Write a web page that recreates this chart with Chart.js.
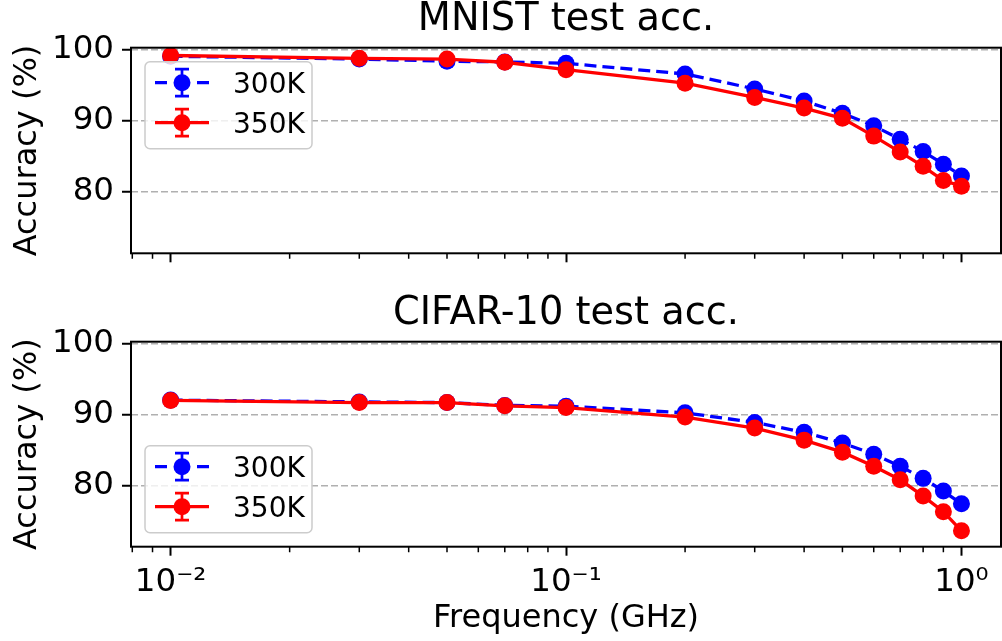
<!DOCTYPE html>
<html><head><meta charset="utf-8">
<script src="https://cdn.jsdelivr.net/npm/chart.js@4.4.1/dist/chart.umd.min.js"></script>
<style>
html,body{margin:0;padding:0;background:#fff;}
#wrap{position:relative;width:1002px;height:641px;overflow:hidden;}
canvas{position:absolute;left:0;}
#c1{top:0px}
#c2{top:290px}
</style></head><body>
<div id="wrap"><canvas id="c1" width="1002" height="290"></canvas><canvas id="c2" width="1002" height="351"></canvas></div>
<script>
// ---- data ----
const freqs = [0.01, 0.03, 0.05, 0.07, 0.1, 0.2, 0.3, 0.4, 0.5, 0.6, 0.7, 0.8, 0.9, 1.0];
const mnist300 = [99.1, 98.7, 98.4, 98.3, 98.1, 96.6, 94.5, 92.8, 91.06, 89.3, 87.4, 85.7, 83.9, 82.25];
const mnist350 = [99.2, 98.8, 98.7, 98.25, 97.2, 95.3, 93.3, 91.8, 90.35, 87.85, 85.6, 83.6, 81.6, 80.8];
const cifar300 = [92.05, 91.8, 91.7, 91.3, 91.2, 90.25, 88.9, 87.5, 86.0, 84.4, 82.7, 81.0, 79.2, 77.4];
const cifar350 = [92.0, 91.7, 91.7, 91.25, 91.0, 89.65, 88.1, 86.4, 84.7, 82.7, 80.8, 78.5, 76.3, 73.6];
const seriesLabels = ['300K', '350K'];
const panelTitles = ['MNIST test acc.', 'CIFAR-10 test acc.'];
const yTickValues = [80, 90, 100];
const xMajorTicks = [0.01, 0.1, 1];
const xMinorTicks = [0.008, 0.009, 0.02, 0.03, 0.04, 0.05, 0.06, 0.07, 0.08, 0.09, 0.2, 0.3, 0.4, 0.5, 0.6, 0.7, 0.8, 0.9];
const xTickLabels = ['10\u207B\u00B2', '10\u207B\u00B9', '10\u2070'];
const yAxisLabel = 'Accuracy (%)';
const xAxisLabel = 'Frequency (GHz)';

const FONT = "'DejaVu Sans', 'Liberation Sans', sans-serif";
const BLUE = '#0000ff', RED = '#ff0000';

function legendHandle(ctx, x0, y, color, dashed) {
  ctx.save();
  ctx.strokeStyle = color; ctx.fillStyle = color;
  ctx.lineWidth = 3.3; ctx.setLineDash([]);
  ctx.beginPath();
  if (dashed) {
    ctx.moveTo(x0, y); ctx.lineTo(x0 + 12, y);
    ctx.moveTo(x0 + 42, y); ctx.lineTo(x0 + 54, y);
  } else {
    ctx.moveTo(x0, y); ctx.lineTo(x0 + 54, y);
  }
  ctx.stroke();
  const cx = x0 + 27;
  ctx.lineWidth = 2.7;
  ctx.beginPath();
  ctx.moveTo(cx, y - 13.5); ctx.lineTo(cx, y + 13.5);
  ctx.moveTo(cx - 7, y - 13.5); ctx.lineTo(cx + 7, y - 13.5);
  ctx.moveTo(cx - 7, y + 13.5); ctx.lineTo(cx + 7, y + 13.5);
  ctx.stroke();
  ctx.beginPath(); ctx.arc(cx, y, 8.5, 0, Math.PI * 2); ctx.fill();
  ctx.restore();
}

const decorPlugin = {
  id: 'decor',
  afterDraw(chart, args, opts) {
    const ctx = chart.ctx, ca = chart.chartArea, xs = chart.scales.x;
    // legend box
    const bw = 167, bh = 87;
    const bx = ca.left + 14;
    const by = opts.legendPos === 'top' ? ca.top + 14 : ca.bottom - 14 - bh;
    ctx.save();
    ctx.beginPath();
    ctx.roundRect(bx, by, bw, bh, 5);
    ctx.fillStyle = 'rgba(255,255,255,0.8)';
    ctx.fill();
    ctx.strokeStyle = '#cccccc'; ctx.lineWidth = 1.5;
    ctx.stroke();
    const ds = chart.data.datasets;
    const entries = [ds.find(d => d.label === seriesLabels[0]), ds.find(d => d.label === seriesLabels[1])];
    entries.forEach((d, i) => {
      const ey = by + 21 + i * 40;
      legendHandle(ctx, bx + 10, ey, d.borderColor, !!(d.borderDash && d.borderDash.length));
      ctx.fillStyle = '#000';
      ctx.font = '28px ' + FONT;
      ctx.textBaseline = 'alphabetic'; ctx.textAlign = 'left';
      ctx.fillText(d.label, bx + 88, ey + 10.5);
    });
    // minor x ticks
    ctx.strokeStyle = '#000'; ctx.lineWidth = 1.5; ctx.setLineDash([]);
    ctx.beginPath();
    xMinorTicks.forEach(v => {
      const px = xs.getPixelForValue(v);
      ctx.moveTo(px, ca.bottom); ctx.lineTo(px, ca.bottom + 5.5);
    });
    ctx.stroke();
    // frame
    ctx.lineWidth = 2; ctx.strokeStyle = '#000';
    ctx.strokeRect(ca.left, ca.top, ca.right - ca.left, ca.bottom - ca.top);
    ctx.restore();
  }
};

function makeChart(canvasId, title, d300, d350, opt) {
  const ctx = document.getElementById(canvasId).getContext('2d');
  return new Chart(ctx, {
    type: 'line',
    data: {
      datasets: [
        { label: seriesLabels[1], data: freqs.map((f, i) => ({ x: f, y: d350[i] })),
          borderColor: RED, backgroundColor: RED, pointBackgroundColor: RED,
          borderWidth: 3.3, pointRadius: 8.5, pointHoverRadius: 8.5, pointBorderWidth: 0, tension: 0 },
        { label: seriesLabels[0], data: freqs.map((f, i) => ({ x: f, y: d300[i] })),
          borderColor: BLUE, backgroundColor: BLUE, pointBackgroundColor: BLUE,
          borderWidth: 3.3, borderDash: [12, 6], pointRadius: 8.5, pointHoverRadius: 8.5, pointBorderWidth: 0, tension: 0 }
      ]
    },
    options: {
      responsive: false, animation: false, devicePixelRatio: 1,
      layout: { autoPadding: false, padding: { left: 0, right: 1, top: opt.padTop, bottom: 0 } },
      plugins: {
        legend: { display: false }, tooltip: { enabled: false },
        title: { display: true, text: title, fullSize: false, color: '#000',
          font: { family: FONT, size: 38.3, weight: 'normal', lineHeight: 1.0 },
          padding: { top: 1, bottom: 8.4 } },
        decor: { legendPos: opt.legendPos }
      },
      scales: {
        x: {
          type: 'logarithmic', min: 0.00794, max: 1.2589,
          afterBuildTicks: s => { s.ticks = xMajorTicks.map(v => ({ value: v, major: true })); },
          afterFit: s => { s.height = opt.xHeight; },
          ticks: {
            display: true, autoSkip: false, maxRotation: 0, minRotation: 0, padding: 7,
            color: '#000', font: { family: FONT, size: 32.5 },
            callback: (v) => {
              if (!opt.xLabels) return '';
              const idx = xMajorTicks.findIndex(t => Math.abs(t - v) < 1e-9);
              return idx >= 0 ? xTickLabels[idx] : '';
            }
          },
          grid: { drawOnChartArea: false, drawTicks: true, tickLength: 9, tickWidth: 2, tickColor: '#000' },
          border: { display: false },
          title: { display: opt.xLabels, text: xAxisLabel, color: '#000',
            font: { family: FONT, size: 32, weight: 'normal' }, padding: { top: 0, bottom: 3 } }
        },
        y: {
          min: 71.35, max: 100.3,
          afterBuildTicks: s => { s.ticks = yTickValues.map(v => ({ value: v })); },
          afterFit: s => { s.width = 131; },
          ticks: { padding: 8, color: '#000', font: { family: FONT, size: 32.5 }, callback: v => String(v) },
          grid: { color: '#b0b0b0', lineWidth: 1.5, tickLength: 9, tickWidth: 2, tickColor: '#000', tickBorderDash: [] },
          border: { display: false, dash: [7, 3] },
          title: { display: true, text: yAxisLabel, color: '#000',
            font: { family: FONT, size: 32, weight: 'normal' }, padding: { top: 8.2, bottom: 0 } }
        }
      }
    },
    plugins: [decorPlugin]
  });
}

makeChart('c1', panelTitles[0], mnist300, mnist350, { padTop: 0, legendPos: 'top', xHeight: 36.7, xLabels: false });
makeChart('c2', panelTitles[1], cifar300, cifar350, { padTop: 4, legendPos: 'bottom', xHeight: 94.3, xLabels: true });
</script>
</body></html>
